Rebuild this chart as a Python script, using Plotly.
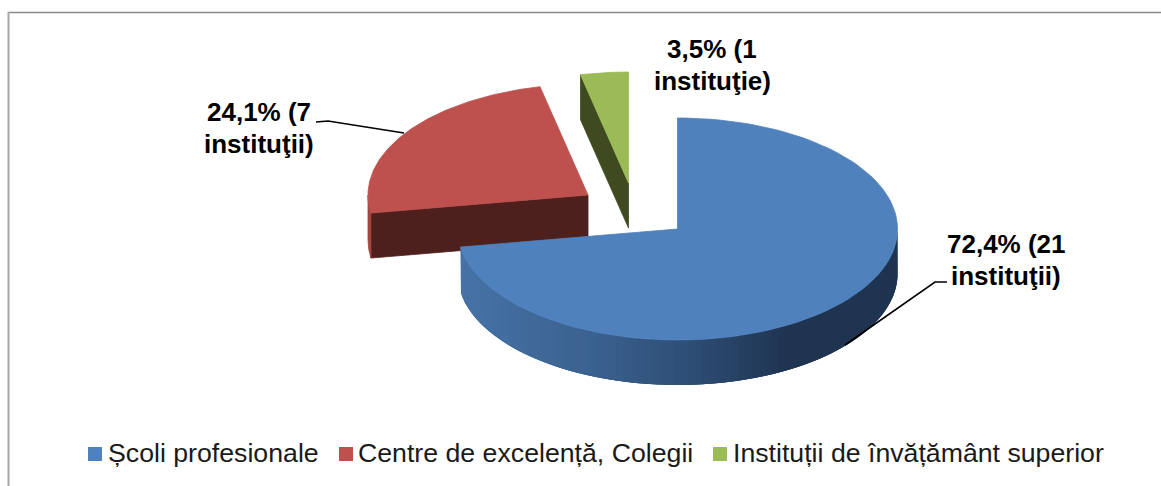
import numpy as np
import plotly.graph_objects as go

# ---- data ----
categories = ["Școli profesionale", "Centre de excelență, Colegii", "Instituții de învățământ superior"]
percentages = [72.4, 24.1, 3.5]
institutions = [21, 7, 1]
label_units = ["instituţii", "instituţii", "instituţie"]

# ---- style ----
top_colors = ["#4F81BD", "#BE504D", "#9BBB59"]
cut_colors = [None, "#4D1F1D", "#3F4A20"]
rim_colors = [None, "#A5443F", "#6F8740"]
RX, RY, DEPTH = 220.0, 111.0, 45.0
apexes = [(677.5, 229.0), (588.0, 195.0), (628.5, 183.0)]
side_stops = [(458, (70, 114, 166)), (570, (59, 98, 144)), (670, (46, 78, 118)),
              (770, (31, 52, 80)), (898, (31, 52, 80))]
FONT = "Liberation Sans, Arial, sans-serif"

shares = [p / sum(percentages) for p in percentages]
edges = np.concatenate([[0.0], np.cumsum(shares)]) * 2 * np.pi


def rim(apex, a, b, n=120):
    t = np.linspace(a, b, n)
    return apex[0] + RX * np.sin(t), apex[1] - RY * np.cos(t)


def side_color(px):
    xs = [s[0] for s in side_stops]
    rgb = [np.interp(px, xs, [s[1][i] for s in side_stops]) for i in range(3)]
    return "rgb(%d,%d,%d)" % tuple(int(round(c)) for c in rgb)


def poly(x, y, color, width=0.8):
    return go.Scatter(x=list(x), y=list(y), mode="lines", fill="toself", fillcolor=color,
                      line=dict(color=color, width=width), showlegend=False, hoverinfo="skip")


fig = go.Figure()

# red, then green, then blue so that blue sits in front
for i in (1, 2, 0):
    apex = apexes[i]
    a, b = edges[i], edges[i + 1]
    if i == 0:
        # curved outer wall: overlapping bands painted in order hide the seams
        bands = 90
        ts = np.linspace(np.pi / 2, b, bands + 1)
        for k in range(bands):
            x, y = rim(apex, ts[max(k - 2, 0)], ts[k + 1], 8)
            fig.add_trace(poly(np.r_[x, x[::-1], x[0]], np.r_[y, y[::-1] + DEPTH, y[0]],
                               side_color(x[-1]), width=0))
    else:
        # flat cut face on the slice's near side
        ex, ey = rim(apex, a, a, 1)
        fig.add_trace(poly([apex[0], ex[0], ex[0], apex[0], apex[0]],
                           [apex[1], ey[0], ey[0] + DEPTH, apex[1] + DEPTH, apex[1]],
                           cut_colors[i]))
        if i == 1:
            x, y = rim(apex, a, 1.5 * np.pi, 12)
            fig.add_trace(poly(np.r_[x, x[::-1], x[0]], np.r_[y, y[::-1] + DEPTH, y[0]], rim_colors[i]))
    x, y = rim(apex, a, b)
    fig.add_trace(poly(np.r_[apex[0], x, apex[0]], np.r_[apex[1], y, apex[1]], top_colors[i]))

# legend, placed to match the reference's tight swatch/text spacing
swatch_x = [95, 346, 720]
text_x = [107, 357, 732]
LEGEND_Y = 454
fig.add_trace(go.Scatter(x=swatch_x, y=[LEGEND_Y] * 3, mode="markers", showlegend=False, hoverinfo="skip",
                         marker=dict(symbol="square", size=14, color=top_colors)))
for name, tx in zip(categories, text_x):
    fig.add_annotation(x=tx, y=LEGEND_Y - 1, xref="x", yref="y", showarrow=False, xanchor="left", text=name,
                       xshift=-1, font=dict(family=FONT, size=26.7, color="#1a1a1a"))

# data labels (one annotation per line so the line pitch matches)
pct = [("%.1f" % p).replace(".", ",") for p in percentages]
label_x = [1006, 259, 712]
label_y = [(244, 276), (112, 144), (49, 81)]
for i in range(3):
    lines = ["%s%% (%d" % (pct[i], institutions[i]), "%s)" % label_units[i]]
    for line, ly in zip(lines, label_y[i]):
        fig.add_annotation(x=label_x[i], y=ly, xref="x", yref="y", showarrow=False, text="<b>%s</b>" % line,
                           font=dict(family=FONT, size=26, color="#000000"))

# leader lines
fig.add_trace(go.Scatter(x=[947, 935, 845], y=[282, 282, 345], mode="lines",
                         line=dict(color="#000000", width=1.6), showlegend=False, hoverinfo="skip"))
fig.add_trace(go.Scatter(x=[316, 328, 404], y=[122, 121, 133], mode="lines",
                         line=dict(color="#000000", width=1.6), showlegend=False, hoverinfo="skip"))

# frame
fig.add_shape(type="line", x0=8, x1=1161, y0=12.5, y1=12.5, line=dict(color="#888888", width=1.5))
fig.add_shape(type="line", x0=8.5, x1=8.5, y0=12, y1=486, line=dict(color="#A8A8A8", width=2))

fig.update_xaxes(range=[0, 1161], visible=False, fixedrange=True)
fig.update_yaxes(range=[486, 0], visible=False, fixedrange=True)
fig.update_layout(width=1161, height=486, margin=dict(l=0, r=0, t=0, b=0), showlegend=False,
                  paper_bgcolor="#FFFFFF", plot_bgcolor="#FFFFFF", font=dict(family=FONT))
fig.write_html("out.html", config={"displayModeBar": False},
               post_script="document.body.style.margin='0';")
